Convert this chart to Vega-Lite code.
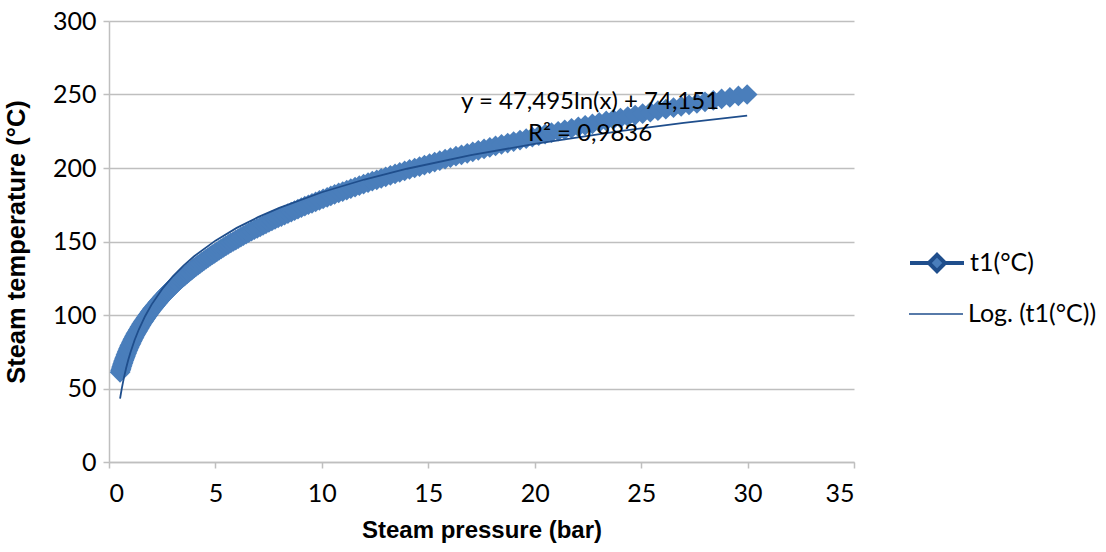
{
  "$schema": "https://vega.github.io/schema/vega-lite/v6.json",
  "width": 745,
  "height": 441,
  "autosize": "none",
  "padding": {"left": 109, "top": 21, "right": 252, "bottom": 90},
  "background": "white",
  "config": {"view": {"stroke": null}, "font": "Lato"},
  "datasets": {
    "steam": [
      {"p":0.521,"t":61},{"p":0.540,"t":62},{"p":0.560,"t":63},{"p":0.581,"t":64},{"p":0.603,"t":65},{"p":0.625,"t":66},{"p":0.649,"t":67},{"p":0.673,"t":68},{"p":0.697,"t":69},{"p":0.723,"t":70},
      {"p":0.748,"t":71},{"p":0.774,"t":72},{"p":0.800,"t":73},{"p":0.828,"t":74},{"p":0.856,"t":75},{"p":0.885,"t":76},{"p":0.915,"t":77},{"p":0.946,"t":78},{"p":0.978,"t":79},{"p":1.011,"t":80},
      {"p":1.043,"t":81},{"p":1.076,"t":82},{"p":1.110,"t":83},{"p":1.146,"t":84},{"p":1.182,"t":85},{"p":1.219,"t":86},{"p":1.257,"t":87},{"p":1.296,"t":88},{"p":1.336,"t":89},{"p":1.377,"t":90},
      {"p":1.418,"t":91},{"p":1.459,"t":92},{"p":1.502,"t":93},{"p":1.545,"t":94},{"p":1.590,"t":95},{"p":1.636,"t":96},{"p":1.683,"t":97},{"p":1.731,"t":98},{"p":1.781,"t":99},{"p":1.832,"t":100},
      {"p":1.881,"t":101},{"p":1.932,"t":102},{"p":1.984,"t":103},{"p":2.038,"t":104},{"p":2.092,"t":105},{"p":2.148,"t":106},{"p":2.205,"t":107},{"p":2.264,"t":108},{"p":2.324,"t":109},{"p":2.385,"t":110},
      {"p":2.445,"t":111},{"p":2.506,"t":112},{"p":2.569,"t":113},{"p":2.633,"t":114},{"p":2.699,"t":115},{"p":2.766,"t":116},{"p":2.834,"t":117},{"p":2.904,"t":118},{"p":2.976,"t":119},{"p":3.049,"t":120},
      {"p":3.120,"t":121},{"p":3.193,"t":122},{"p":3.267,"t":123},{"p":3.343,"t":124},{"p":3.421,"t":125},{"p":3.500,"t":126},{"p":3.581,"t":127},{"p":3.664,"t":128},{"p":3.748,"t":129},{"p":3.835,"t":130},
      {"p":3.919,"t":131},{"p":4.005,"t":132},{"p":4.093,"t":133},{"p":4.182,"t":134},{"p":4.273,"t":135},{"p":4.366,"t":136},{"p":4.462,"t":137},{"p":4.559,"t":138},{"p":4.658,"t":139},{"p":4.759,"t":140},
      {"p":4.859,"t":141},{"p":4.959,"t":142},{"p":5.061,"t":143},{"p":5.166,"t":144},{"p":5.272,"t":145},{"p":5.381,"t":146},{"p":5.492,"t":147},{"p":5.606,"t":148},{"p":5.722,"t":149},{"p":5.840,"t":150},
      {"p":5.955,"t":151},{"p":6.073,"t":152},{"p":6.193,"t":153},{"p":6.315,"t":154},{"p":6.439,"t":155},{"p":6.567,"t":156},{"p":6.696,"t":157},{"p":6.828,"t":158},{"p":6.963,"t":159},{"p":7.101,"t":160},
      {"p":7.235,"t":161},{"p":7.372,"t":162},{"p":7.511,"t":163},{"p":7.653,"t":164},{"p":7.798,"t":165},{"p":7.945,"t":166},{"p":8.095,"t":167},{"p":8.248,"t":168},{"p":8.404,"t":169},{"p":8.563,"t":170},
      {"p":8.718,"t":171},{"p":8.876,"t":172},{"p":9.036,"t":173},{"p":9.200,"t":174},{"p":9.367,"t":175},{"p":9.536,"t":176},{"p":9.709,"t":177},{"p":9.885,"t":178},{"p":10.06,"t":179},{"p":10.25,"t":180},
      {"p":10.42,"t":181},{"p":10.60,"t":182},{"p":10.79,"t":183},{"p":10.98,"t":184},{"p":11.17,"t":185},{"p":11.36,"t":186},{"p":11.56,"t":187},{"p":11.76,"t":188},{"p":11.96,"t":189},{"p":12.17,"t":190},
      {"p":12.37,"t":191},{"p":12.58,"t":192},{"p":12.79,"t":193},{"p":13.00,"t":194},{"p":13.22,"t":195},{"p":13.44,"t":196},{"p":13.66,"t":197},{"p":13.89,"t":198},{"p":14.12,"t":199},{"p":14.36,"t":200},
      {"p":14.59,"t":201},{"p":14.82,"t":202},{"p":15.06,"t":203},{"p":15.30,"t":204},{"p":15.54,"t":205},{"p":15.79,"t":206},{"p":16.04,"t":207},{"p":16.30,"t":208},{"p":16.56,"t":209},{"p":16.83,"t":210},
      {"p":17.09,"t":211},{"p":17.35,"t":212},{"p":17.62,"t":213},{"p":17.89,"t":214},{"p":18.16,"t":215},{"p":18.44,"t":216},{"p":18.73,"t":217},{"p":19.01,"t":218},{"p":19.31,"t":219},{"p":19.60,"t":220},
      {"p":19.89,"t":221},{"p":20.19,"t":222},{"p":20.49,"t":223},{"p":20.79,"t":224},{"p":21.10,"t":225},{"p":21.41,"t":226},{"p":21.73,"t":227},{"p":22.05,"t":228},{"p":22.37,"t":229},{"p":22.71,"t":230},
      {"p":23.03,"t":231},{"p":23.36,"t":232},{"p":23.69,"t":233},{"p":24.03,"t":234},{"p":24.37,"t":235},{"p":24.72,"t":236},{"p":25.07,"t":237},{"p":25.43,"t":238},{"p":25.79,"t":239},{"p":26.16,"t":240},
      {"p":26.52,"t":241},{"p":26.88,"t":242},{"p":27.25,"t":243},{"p":27.62,"t":244},{"p":28.00,"t":245},{"p":28.39,"t":246},{"p":28.78,"t":247},{"p":29.17,"t":248},{"p":29.57,"t":249},{"p":29.98,"t":250}
    ],
    "trend": [
      {"p":0.52,"t":43.09},{"p":0.56,"t":46.61},{"p":0.6,"t":49.89},{"p":0.65,"t":53.69},{"p":0.7,"t":57.21},{"p":0.8,"t":63.55},{"p":0.9,"t":69.15},{"p":1,"t":74.15},{"p":1.2,"t":82.81},{"p":1.4,"t":90.13},{"p":1.7,"t":99.35},{"p":2,"t":107.07},{"p":2.5,"t":117.67},{"p":3,"t":126.33},{"p":3.5,"t":133.65},{"p":4,"t":139.99},{"p":5,"t":150.59},{"p":6,"t":159.25},{"p":7,"t":166.57},{"p":8,"t":172.91},{"p":10,"t":183.51},{"p":12,"t":192.17},{"p":14,"t":199.49},{"p":17,"t":208.72},{"p":20,"t":216.43},{"p":24,"t":225.09},{"p":27,"t":230.69},{"p":29.98,"t":235.66}
    ],
    "eq": [
      {"p":22.6,"t":244.7,"label":"y = 47,495ln(x) + 74,151"},
      {"p":22.6,"t":223.1,"label":"R² = 0,9836"}
    ]
  },
  "encoding": {
    "x": {"field": "p", "type": "quantitative",
      "scale": {"domain": [0, 35], "nice": false, "zero": false},
      "axis": {"values": [0,5,10,15,20,25,30,35], "grid": false,
        "domainColor": "#bfbfbf", "domainWidth": 1.5, "tickColor": "#bfbfbf", "tickWidth": 1.5, "tickSize": 6,
        "labelFont": "Lato", "labelFontSize": 25, "labelColor": "#000000", "labelPadding": 13,
        "title": "Steam pressure (bar)", "titleFont": "Liberation Sans", "titleFontWeight": "bold", "titleFontSize": 24, "titleColor": "#000000", "titlePadding": 12}},
    "y": {"field": "t", "type": "quantitative",
      "scale": {"domain": [0, 300], "nice": false},
      "axis": {"values": [0,50,100,150,200,250,300], "grid": true, "gridColor": "#bfbfbf", "gridWidth": 1.5,
        "domainColor": "#bfbfbf", "domainWidth": 1.5, "tickColor": "#bfbfbf", "tickWidth": 1.5, "tickSize": 6,
        "labelFont": "Lato", "labelFontSize": 25, "labelColor": "#000000", "labelPadding": 7,
        "title": "Steam temperature (°C)", "titleFont": "Liberation Sans", "titleFontWeight": "bold", "titleFontSize": 25.5, "titleColor": "#000000", "titlePadding": 23}}
  },
  "layer": [
    {
      "data": {"name": "steam"},
      "mark": {"type": "point", "shape": "diamond", "filled": true, "size": 430, "opacity": 1},
      "encoding": {
        "fill": {"datum": "t1(°C)", "type": "nominal",
          "scale": {"domain": ["t1(°C)"], "range": ["#4a7ebb"]},
          "legend": {"orient": "none", "legendX": 799, "legendY": 213, "title": null,
            "labelFont": "Lato", "labelFontSize": 25, "labelColor": "#000000", "labelOffset": 4,
            "symbolSize": 2916, "padding": 0,
            "symbolType": "M-1,0H-0.3M0.3,0H1M-0.3,0L0,-0.3L0.3,0L0,0.3Z",
            "symbolStrokeColor": "#1f4e8c", "symbolStrokeWidth": 4, "symbolOpacity": 1}}
      }
    },
    {
      "data": {"name": "trend"},
      "mark": {"type": "line", "strokeWidth": 1.8},
      "encoding": {
        "stroke": {"datum": "Log. (t1(°C))", "type": "nominal",
          "scale": {"domain": ["Log. (t1(°C))"], "range": ["#1f4e8c"]},
          "legend": {"orient": "none", "legendX": 799, "legendY": 265, "title": null,
            "labelFont": "Lato", "labelFontSize": 25, "labelColor": "#000000", "labelOffset": 4,
            "symbolSize": 2916, "padding": 0,
            "symbolType": "M-1,0H1", "symbolStrokeWidth": 1.5, "symbolOpacity": 1}}
      }
    },
    {
      "data": {"name": "eq"},
      "mark": {"type": "text", "font": "Lato", "fontSize": 24, "color": "#000000", "align": "center", "baseline": "middle"},
      "encoding": {"text": {"field": "label"}}
    }
  ]
}
